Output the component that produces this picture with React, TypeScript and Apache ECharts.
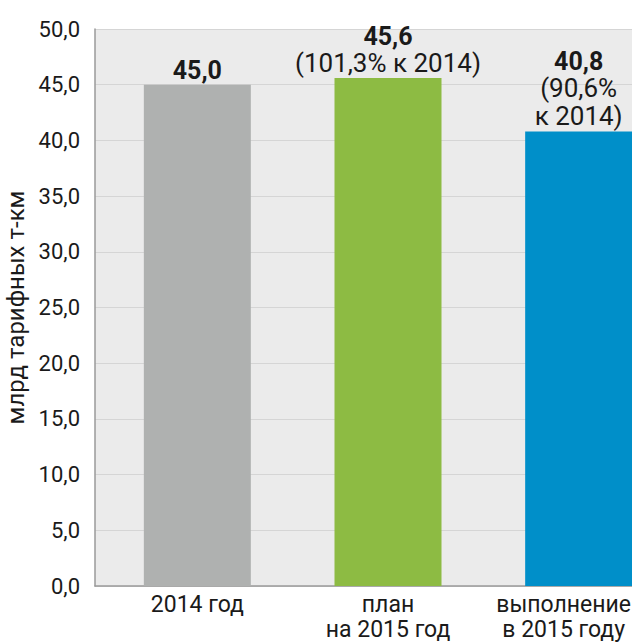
import React, { useEffect, useRef } from "react";
import * as echarts from "echarts";

const categories = ["2014 год", "план\nна 2015 год", "выполнение\nв 2015 году"];
const values = [45.0, 45.6, 40.8];
const changeLines: string[][] = [[], ["(101,3% к 2014)"], ["(90,6%", "к 2014)"]];
const barColors = ["#AFB1B0", "#8DBB43", "#008FC9"];
const yTicks = { min: 0, max: 50, interval: 5 };
const yName = "млрд тарифных т-км";

const FONT = "Roboto";
const fmt = (v: number) => v.toFixed(1).replace(".", ",");

export default function App() {
  const ref = useRef<HTMLDivElement>(null);
  useEffect(() => {
    if (!ref.current) return;
    const chart = echarts.init(ref.current, null, { renderer: "svg" });
    chart.setOption({
      animation: false,
      textStyle: { fontFamily: FONT, color: "#1a1a1a" },
      grid: [
        {
          left: 95, right: 0, top: 29, bottom: 57,
          show: true, backgroundColor: "#EBEBEB", borderWidth: 0,
          outerBoundsMode: "none", containLabel: false,
        },
        { left: 102, width: 572, top: 29, bottom: 57, outerBoundsMode: "none", containLabel: false },
      ],
      xAxis: [
        {
          gridIndex: 0,
          type: "value",
          min: 0,
          max: 1,
          axisLabel: { show: false },
          axisTick: { show: false },
          splitLine: { show: false },
          axisLine: { show: true, lineStyle: { color: "#9a9a9a", width: 1.5 } },
        },
        {
          gridIndex: 1,
          type: "category",
          data: categories.map((c, i) =>
            i === categories.length - 1 ? { value: c, textStyle: { padding: [0, 30, 0, 0] } } : c
          ),
          axisLine: { show: false },
          axisTick: { show: false },
          axisLabel: {
            fontFamily: FONT,
            fontSize: 23,
            color: "#1a1a1a",
            margin: 6,
            lineHeight: 25,
            interval: 0,
          },
        },
      ],
      yAxis: [
        {
          gridIndex: 0,
          type: "value",
          min: yTicks.min,
          max: yTicks.max,
          interval: yTicks.interval,
          name: yName,
          nameLocation: "middle",
          nameGap: 65,
          nameTextStyle: { fontFamily: FONT, fontSize: 24, color: "#1a1a1a" },
          axisLabel: {
            formatter: (v: number) => fmt(v),
            fontFamily: FONT,
            fontSize: 22,
            color: "#1a1a1a",
            margin: 15,
          },
          axisTick: { show: false },
          axisLine: { show: true, lineStyle: { color: "#9a9a9a", width: 1.5 } },
          splitLine: { show: true, lineStyle: { color: "#D5D5D5", width: 1 } },
        },
        {
          gridIndex: 1,
          type: "value",
          min: yTicks.min,
          max: yTicks.max,
          interval: yTicks.interval,
          show: false,
          splitLine: { show: false },
        },
      ],
      series: [
        {
          type: "bar",
          xAxisIndex: 1,
          yAxisIndex: 1,
          barWidth: 107,
          data: values.map((v, i) => ({
            value: v,
            itemStyle: { color: barColors[i] },
            label: {
              show: true,
              position: "top",
              distance: 1,
              formatter: ["{b|" + fmt(v) + "}", ...changeLines[i].map((s) => "{n|" + s + "}")].join("\n"),
              rich: {
                b: { fontFamily: FONT, fontSize: 25, fontWeight: "bold", color: "#1a1a1a", lineHeight: 26 },
                n: { fontFamily: FONT, fontSize: 26, color: "#1a1a1a", lineHeight: 28 },
              },
            },
          })),
        },
      ],
    });
    return () => chart.dispose();
  }, []);
  return (
    <div
      ref={ref}
      style={{ position: "fixed", left: 0, top: 0, width: 632, height: 643, overflow: "hidden", background: "#fff" }}
    />
  );
}
